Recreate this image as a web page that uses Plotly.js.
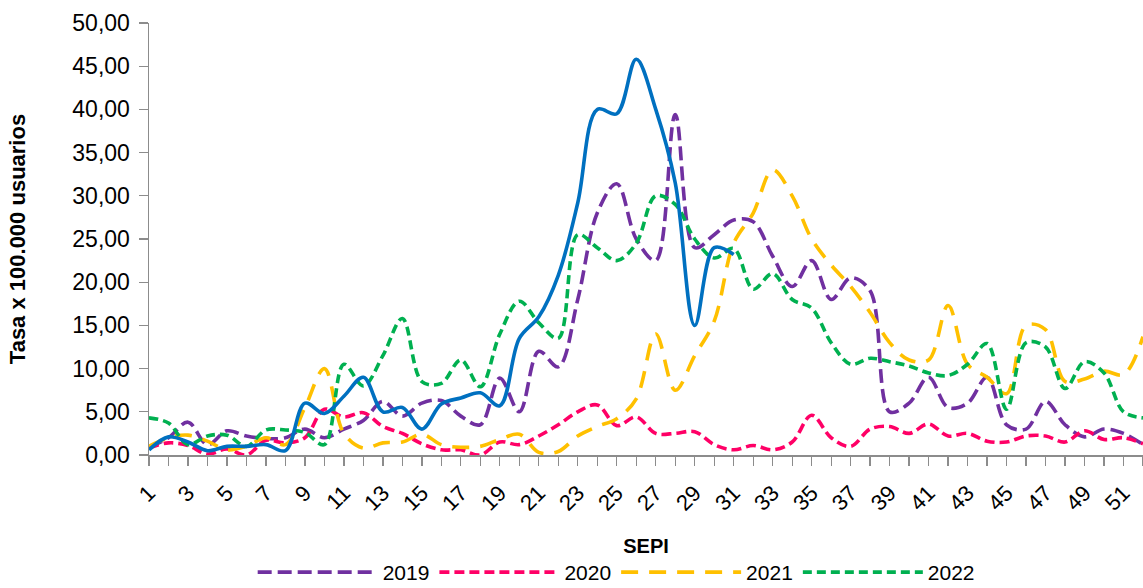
<!DOCTYPE html>
<html>
<head>
<meta charset="utf-8">
<script src="https://cdn.plot.ly/plotly-3.0.1.min.js"></script>
<style>html,body{margin:0;padding:0;background:#fff;}#chart{width:1143px;height:588px;}</style>
</head>
<body>
<div id="chart"></div>
<script>
const weeks = [1,2,3,4,5,6,7,8,9,10,11,12,13,14,15,16,17,18,19,20,21,22,23,24,25,26,27,28,29,30,31,32,33,34,35,36,37,38,39,40,41,42,43,44,45,46,47,48,49,50,51,52];
const tickLabels = ["1","3","5","7","9","11","13","15","17","19","21","23","25","27","29","31","33","35","37","39","41","43","45","47","49","51"];
const tickWeeks = [1,3,5,7,9,11,13,15,17,19,21,23,25,27,29,31,33,35,37,39,41,43,45,47,49,51];

const s2019 = [0.9,2.0,3.8,1.2,2.8,2.2,1.9,2.0,3.0,2.0,3.0,4.0,6.2,4.5,6.0,6.3,4.5,3.5,8.9,5.0,12.0,10.2,18.0,28.0,31.4,25.0,22.5,39.4,24.0,25.5,27.2,27.0,23.0,19.5,22.5,18.0,20.5,19.0,5.0,6.0,9.0,5.5,6.0,9.0,3.5,3.0,6.2,3.5,2.1,3.0,2.5,1.2];
const s2020 = [0.8,1.4,1.1,0.1,0.7,0.0,1.7,1.4,2.0,5.3,4.4,4.9,3.3,2.5,1.3,0.6,0.6,0.0,1.5,1.2,2.2,3.5,5.0,5.8,3.4,4.4,2.5,2.5,2.7,1.2,0.6,1.1,0.6,1.5,4.6,2.0,1.0,3.0,3.3,2.5,3.6,2.2,2.5,1.6,1.5,2.2,2.2,1.5,2.8,1.8,2.0,1.3];
const s2021 = [1.0,2.0,2.3,1.6,0.6,1.0,2.0,1.2,5.5,10.0,2.5,0.8,1.4,1.5,2.4,1.2,0.9,1.0,1.8,2.4,0.3,0.4,2.2,3.3,4.2,6.5,14.0,7.5,11.5,15.5,24.5,28.0,33.0,30.0,25.0,22.0,19.5,16.5,13.0,11.0,11.0,17.3,10.5,9.0,7.1,15.0,14.5,8.5,8.8,9.7,9.3,13.7];
const s2022 = [4.3,3.7,1.2,2.2,2.3,1.0,2.9,2.9,2.6,1.2,10.5,8.0,11.5,15.8,8.5,8.3,11.0,7.9,14.0,17.8,15.3,13.5,25.5,24.0,22.5,24.5,30.0,29.0,25.0,22.8,23.9,19.2,21.0,18.0,17.0,13.0,10.5,11.2,10.8,10.3,9.5,9.2,10.5,12.9,5.3,13.0,12.5,7.7,10.8,9.5,5.0,4.3];
const s2023 = [0.6,2.1,1.5,0.5,1.0,1.0,1.2,0.5,6.0,4.8,6.8,9.0,5.0,5.5,3.0,5.9,6.6,7.2,5.7,13.5,16.0,20.8,29.2,40.0,39.5,45.8,40.0,31.5,15.0,24.0,23.2];

const colors = {y2019:'#7030A0', y2020:'#FF0066', y2021:'#FFC000', y2022:'#00B050', y2023:'#0070C0'};

function tr(name, y, color, dash, show) {
  return {
    type:'scatter', mode:'lines', name:name,
    x: weeks.slice(0, y.length), y:y,
    line:{color:color, width:3.6, dash:dash, shape:'spline', smoothing:1},
    showlegend: show, hoverinfo:'skip'
  };
}

const data = [
  tr('2019', s2019, colors.y2019, '14px,6px', true),
  tr('2020', s2020, colors.y2020, '10px,5px', true),
  tr('2021', s2021, colors.y2021, '17px,11px', true),
  tr('2022', s2022, colors.y2022, '9px,5px', true),
  tr('2023', s2023, colors.y2023, 'solid', false)
];

const axisColor = '#8c8c8c';
const layout = {
  width:1143, height:588,
  margin:{l:149, r:0, t:23, b:133, autoexpand:false},
  paper_bgcolor:'#ffffff', plot_bgcolor:'#ffffff',
  font:{family:'"Liberation Sans", Arial, sans-serif', color:'#000'},
  separators:',.',
  showlegend:true,
  xaxis:{
    range:[1,52], showgrid:false, zeroline:false,
    showline:true, linecolor:axisColor, linewidth:1.5,
    tickmode:'array', tickvals:tickWeeks, ticktext:tickLabels,
    ticks:'outside', ticklen:9, tickcolor:axisColor, tickwidth:1.3,
    minor:{dtick:1, tick0:1, ticks:'outside', ticklen:9, tickcolor:axisColor, tickwidth:1.3, showgrid:false},
    tickangle:-45, tickfont:{size:22, color:'#000'}, ticklabelstandoff:6,
    title:{text:'<b>SEPI</b>', font:{size:20, color:'#000'}, standoff:24},
    automargin:false
  },
  yaxis:{
    range:[0,50], showgrid:false, zeroline:false,
    showline:true, linecolor:axisColor, linewidth:1.5,
    tickmode:'linear', tick0:0, dtick:5, tickformat:'.2f',
    ticks:'outside', ticklen:9, tickcolor:axisColor, tickwidth:1.3,
    tickfont:{size:23, color:'#000'}, ticklabelstandoff:4,
    title:{text:'<b>Tasa x 100.000 usuarios</b>', font:{size:22, color:'#000'}, standoff:40},
    automargin:false
  },
  legend:{
    orientation:'h', x:0.47, xanchor:'center', y:-0.272, yanchor:'middle',
    font:{size:21, color:'#000'}, itemwidth:120, tracegroupgap:0,
    bgcolor:'rgba(0,0,0,0)'
  }
};

Plotly.newPlot('chart', data, layout, {staticPlot:true, displayModeBar:false});
</script>
</body>
</html>
